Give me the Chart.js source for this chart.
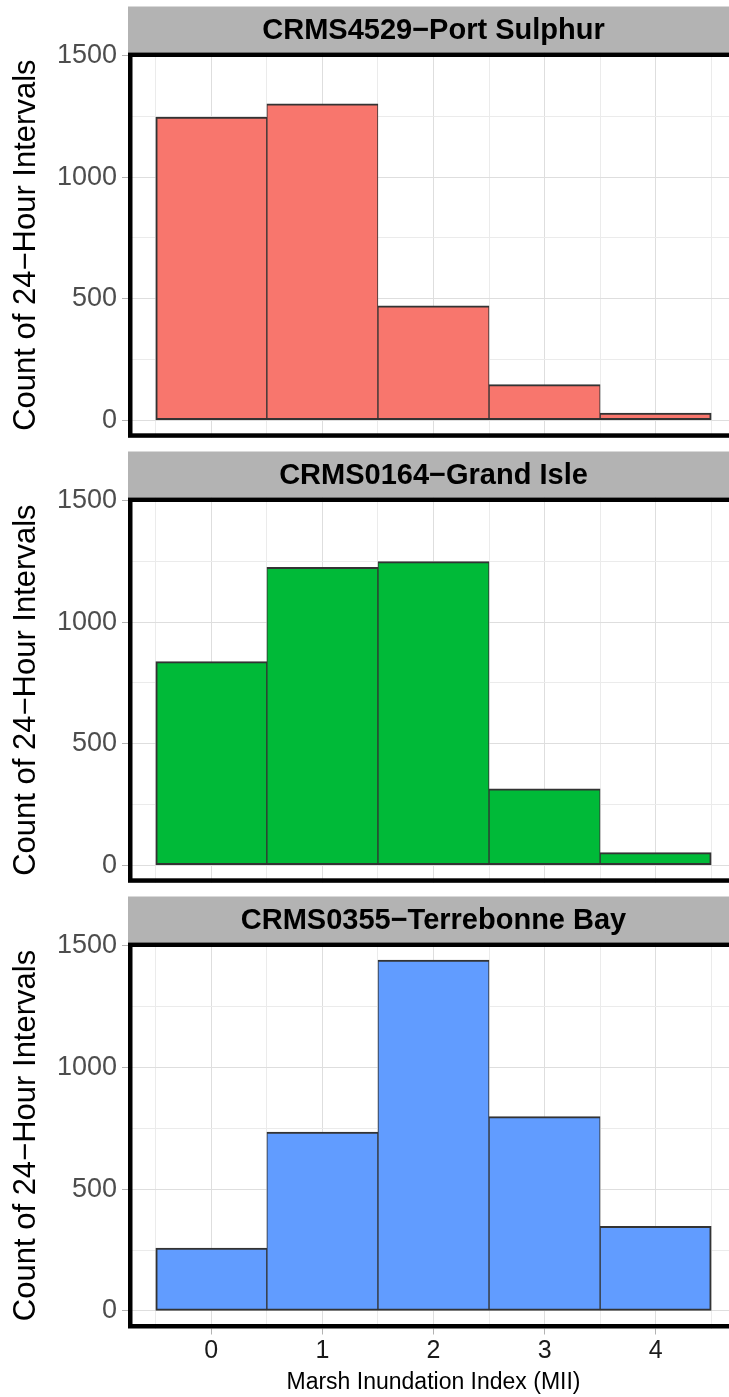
<!DOCTYPE html>
<html>
<head>
<meta charset="utf-8">
<script src="https://cdn.jsdelivr.net/npm/chart.js@4.4.1/dist/chart.umd.min.js"></script>
<style>
  html, body { margin: 0; padding: 0; background: #fff; overflow: hidden; width: 729px; height: 1397px; }
  .facet { position: absolute; left: 0; }
</style>
</head>
<body>
<canvas id="c1" class="facet" width="745" height="459" style="top:0px"></canvas>
<canvas id="c2" class="facet" width="745" height="459" style="top:445px"></canvas>
<canvas id="c3" class="facet" width="745" height="507" style="top:890px"></canvas>
<script>
// Marsh Inundation Index bins and counts per site
const mii = [0, 1, 2, 3, 4];
const portSulphur = [1247, 1302, 471, 147, 30];
const grandIsle = [838, 1226, 1249, 315, 52];
const terrebonneBay = [258, 735, 1441, 798, 348];
const yTickLabels = [0, 500, 1000, 1500];
const sites = ['CRMS4529\u2212Port Sulphur', 'CRMS0164\u2212Grand Isle', 'CRMS0355\u2212Terrebonne Bay'];
const fills = ['#F8766D', '#00BA38', '#619CFF'];

const FONT = "'Liberation Sans', Arial, sans-serif";
const yMax = Math.max(...portSulphur, ...grandIsle, ...terrebonneBay);
const yPad = yMax * 0.05;

// major ticks plus the minor ones halfway between them
function withMinor(major) {
    const out = [];
    major.forEach((v, k) => {
        if (k > 0) out.push((major[k - 1] + v) / 2);
        out.push(v);
    });
    return out;
}
const xGrid = [mii[0] - 0.5].concat(withMinor(mii), [mii[mii.length - 1] + 0.5]);
const yGrid = withMinor(yTickLabels);

// grey strip on top + thick black panel frame (facet look)
const facetFrame = {
    id: 'facetFrame',
    afterDraw(chart, args, opts) {
        const { ctx, chartArea: a } = chart;
        ctx.save();
        ctx.fillStyle = '#b3b3b3';
        ctx.fillRect(a.left, a.top - 46, a.right - a.left, 46);
        ctx.fillStyle = '#000';
        ctx.font = 'bold 29px ' + FONT;
        ctx.textAlign = 'center';
        ctx.textBaseline = 'middle';
        ctx.fillText(opts.label, (a.left + a.right) / 2, a.top - 22);
        ctx.lineWidth = 4.5;
        ctx.strokeStyle = '#000';
        ctx.strokeRect(a.left + 2.25, a.top + 2.25, a.right - a.left - 4.5, a.bottom - a.top - 4.5);
        ctx.restore();
    }
};

function makeFacet(canvasId, values, i, bottom) {
    const last = values.length - 1;
    new Chart(document.getElementById(canvasId), {
        type: 'bar',
        data: {
            datasets: [{
                data: mii.map((x, k) => ({ x: x, y: values[k] })),
                backgroundColor: fills[i],
                borderColor: '#333333',
                borderWidth: c => ({
                    top: 2, bottom: 2,
                    left: c.dataIndex === 0 ? 2 : 1,
                    right: c.dataIndex === last ? 2 : 1
                }),
                borderSkipped: false,
                barThickness: 'flex',
                barPercentage: 1,
                categoryPercentage: 1
            }]
        },
        options: {
            responsive: false,
            animation: false,
            events: [],
            layout: { padding: { top: 52.5, right: 6, left: 0, bottom: 0 } },
            plugins: {
                legend: { display: false },
                tooltip: { enabled: false },
                facetFrame: { label: sites[i] }
            },
            scales: {
                x: {
                    type: 'linear',
                    min: mii[0] - 0.75,
                    max: mii[mii.length - 1] + 0.75,
                    offset: false,
                    grid: {
                        offset: false,
                        color: c => mii.includes(c.tick.value) ? '#dedede' : '#ebebeb',
                        lineWidth: 1,
                        drawTicks: bottom,
                        tickLength: 6,
                        tickColor: c => mii.includes(c.tick.value) ? '#b3b3b3' : 'rgba(0,0,0,0)'
                    },
                    border: { display: false },
                    ticks: {
                        display: bottom,
                        autoSkip: false,
                        maxRotation: 0,
                        padding: 2,
                        color: '#1a1a1a',
                        font: { family: FONT, size: 25 },
                        callback: v => mii.includes(v) ? String(v) : ''
                    },
                    afterBuildTicks: s => { s.ticks = xGrid.map(v => ({ value: v })); },
                    afterFit: s => { s.height = bottom ? 68.5 : 20; },
                    title: {
                        display: bottom,
                        text: 'Marsh Inundation Index (MII)',
                        color: '#000',
                        font: { family: FONT, size: 23, lineHeight: 1 },
                        padding: { top: 0, bottom: 3 }
                    }
                },
                y: {
                    min: -yPad,
                    max: yMax + yPad,
                    grid: {
                        color: c => yTickLabels.includes(c.tick.value) ? '#dedede' : '#ebebeb',
                        lineWidth: 1,
                        tickLength: 6,
                        tickColor: c => yTickLabels.includes(c.tick.value) ? '#b3b3b3' : 'rgba(0,0,0,0)'
                    },
                    border: { display: false },
                    ticks: {
                        autoSkip: false,
                        padding: 5,
                        color: '#4d4d4d',
                        font: { family: FONT, size: 27 },
                        callback: v => yTickLabels.includes(v) ? String(v) : ''
                    },
                    afterBuildTicks: s => { s.ticks = yGrid.map(v => ({ value: v })); },
                    afterFit: s => { s.width = 128; },
                    title: {
                        display: true,
                        text: 'Count of 24\u2212Hour Intervals',
                        color: '#000',
                        font: { family: FONT, size: 31, lineHeight: 1 },
                        padding: { top: 10.5, bottom: 0 }
                    }
                }
            }
        },
        plugins: [facetFrame]
    });
}

makeFacet('c1', portSulphur, 0, false);
makeFacet('c2', grandIsle, 1, false);
makeFacet('c3', terrebonneBay, 2, true);
</script>
</body>
</html>
